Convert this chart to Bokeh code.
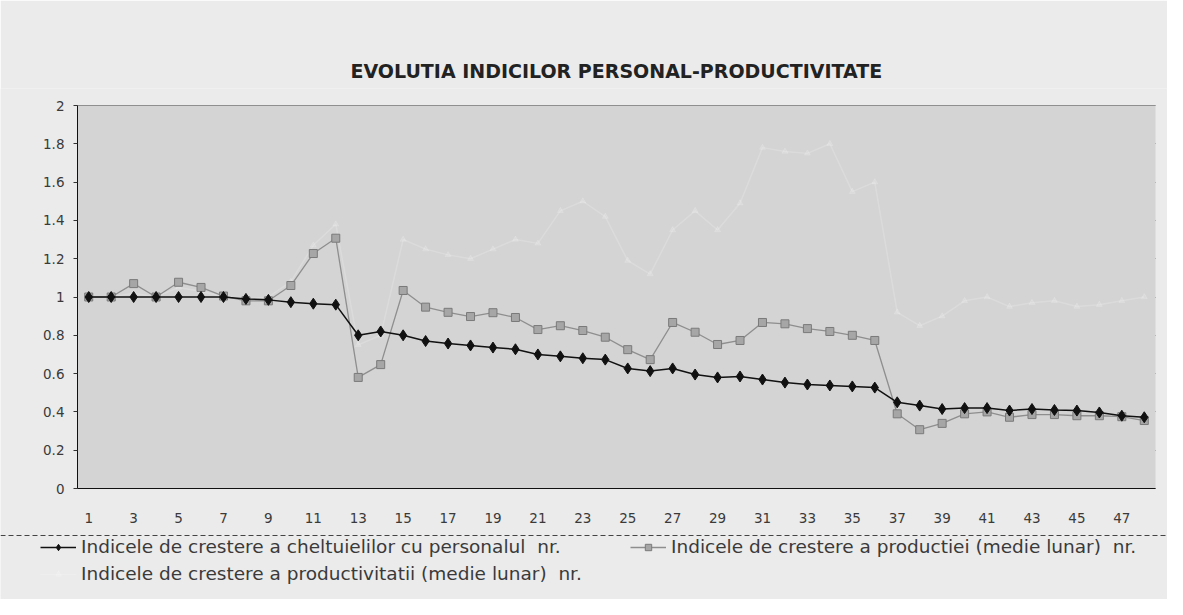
from bokeh.plotting import figure
from bokeh.models import (ColumnDataSource, FixedTicker, Legend, LegendItem, Range1d,
                          BoxAnnotation, Span)
from bokeh.embed import file_html
from bokeh.resources import INLINE

months = list(range(1, 49))
personal = [1.00, 1.00, 1.00, 1.00, 1.00, 1.00, 1.00, 0.99, 0.985, 0.973, 0.965, 0.96,
            0.80, 0.82, 0.80, 0.77, 0.757, 0.747, 0.736, 0.727, 0.70, 0.69, 0.68, 0.673,
            0.627, 0.613, 0.627, 0.595, 0.58, 0.585, 0.569, 0.553, 0.543, 0.538, 0.533, 0.527,
            0.45, 0.433, 0.415, 0.42, 0.42, 0.407, 0.415, 0.41, 0.407, 0.397, 0.38, 0.372]
productie = [1.00, 1.00, 1.07, 1.00, 1.077, 1.05, 1.005, 0.98, 0.98, 1.06, 1.227, 1.307,
             0.58, 0.647, 1.034, 0.947, 0.92, 0.898, 0.918, 0.893, 0.83, 0.85, 0.825, 0.79,
             0.725, 0.673, 0.867, 0.816, 0.752, 0.773, 0.867, 0.86, 0.835, 0.82, 0.80, 0.773,
             0.39, 0.307, 0.34, 0.39, 0.40, 0.372, 0.386, 0.386, 0.38, 0.38, 0.375, 0.355]
productivitate = [1.00, 1.00, 1.02, 1.00, 1.05, 1.03, 1.00, 0.99, 1.00, 1.08, 1.27, 1.38,
                  0.75, 0.80, 1.30, 1.25, 1.22, 1.20, 1.25, 1.30, 1.28, 1.45, 1.50, 1.42,
                  1.19, 1.12, 1.35, 1.45, 1.35, 1.49, 1.78, 1.76, 1.75, 1.80, 1.55, 1.60,
                  0.92, 0.85, 0.90, 0.98, 1.00, 0.95, 0.97, 0.98, 0.95, 0.96, 0.98, 1.00]
x_ticks = list(range(1, 48, 2))
y_ticks = [0, 0.2, 0.4, 0.6, 0.8, 1, 1.2, 1.4, 1.6, 1.8, 2]
title = "EVOLUTIA INDICILOR PERSONAL-PRODUCTIVITATE"
labels = ["Indicele de crestere a cheltuielilor cu personalul  nr.",
          "Indicele de crestere a productiei (medie lunar)  nr.",
          "Indicele de crestere a productivitatii (medie lunar)  nr."]

BG = "#ebebeb"
FONT = "DejaVu Sans"
TXT = "#3a3a3a"

# layout geometry (pixels): plot area 77..1155 x 105..488 inside a 1167x599 canvas
W, H = 1167, 599
AREA_L, AREA_R, AREA_T, AREA_B = 77, 1155, 105, 488
FRAME_T = 88
X0, X1 = 0.5, 48.5
Y0, Y1 = 0.0, 2.0
px_x = (AREA_R - AREA_L) / (X1 - X0)
px_y = (AREA_B - AREA_T) / (Y1 - Y0)
x_range = Range1d(X0 - AREA_L / px_x, X1 + (W - AREA_R) / px_x)
y_range = Range1d(Y0 - (H - AREA_B) / px_y, Y1 + (AREA_T - FRAME_T) / px_y)

src = ColumnDataSource(dict(x=months, a=personal, b=productie, c=productivitate))

p = figure(width=W, height=H, output_backend="svg", toolbar_location=None,
           x_range=x_range, y_range=y_range,
           min_border_left=0, min_border_right=0, min_border_top=FRAME_T, min_border_bottom=0)
p.background_fill_color = BG
p.border_fill_color = BG
p.outline_line_color = None
p.add_layout(BoxAnnotation(left=X0, right=X1, bottom=Y0, top=Y1, fill_color="#d4d4d4",
                           fill_alpha=1, line_color=None, level="underlay"))

p.title.text = title
p.title.align = "left"
p.title.offset = 350
p.title.text_font = FONT
p.title.text_font_size = "19px"
p.title.text_font_style = "bold"
p.title.text_color = "#222222"
p.title.standoff = 14

p.xgrid.grid_line_color = None
p.ygrid.ticker = FixedTicker(ticks=y_ticks)
p.ygrid.grid_line_color = "#4a4a4a"
p.ygrid.grid_line_width = 1
p.ygrid.cross_bounds = (X0, X1)

p.yaxis.ticker = FixedTicker(ticks=y_ticks)
p.xaxis.ticker = FixedTicker(ticks=x_ticks)
p.xaxis.fixed_location = Y0
p.yaxis.fixed_location = X0
p.xaxis.bounds = (X0, X1)
p.yaxis.bounds = (Y0, Y1)
for ax in (p.xaxis, p.yaxis):
    ax.axis_line_color = "#111111"
    ax.major_tick_line_color = "#333333"
    ax.minor_tick_line_color = None
    ax.major_label_text_font = FONT
    ax.major_label_text_font_size = "13.5px"
    ax.major_label_text_color = TXT
p.xaxis.major_tick_in = 0
p.xaxis.major_tick_out = 0
p.xaxis.major_label_standoff = 24
p.yaxis.major_tick_in = 0
p.yaxis.major_tick_out = 4
p.yaxis.major_label_standoff = 9

styles = {
    "a": dict(line=dict(line_color="#111111", line_width=1.5),
              mark=dict(marker="diamond", size=11, fill_color="#111111", line_color="#111111")),
    "b": dict(line=dict(line_color="#8e8e8e", line_width=1.3),
              mark=dict(marker="square", size=8, fill_color="#a6a6a6", line_color="#7a7a7a")),
    "c": dict(line=dict(line_color="#ffffff", line_width=1.5, line_alpha=0.18),
              mark=dict(marker="triangle", size=6, fill_color="#ffffff", line_color="#ffffff",
                        fill_alpha=0.15, line_alpha=0.15)),
}

rend = {}
for col in ["c", "b", "a"]:
    r1 = p.line("x", col, source=src, **styles[col]["line"])
    r2 = p.scatter("x", col, source=src, **styles[col]["mark"])
    rend[col] = [r1, r2]

# dashed top border of the legend box
p.add_layout(Span(location=Y0 - (535 - AREA_B) / px_y, dimension="width",
                  line_color="#444444", line_width=1, line_dash="5 3"))

common = dict(label_text_font=FONT, label_text_font_size="18.5px",
              label_text_color=TXT, glyph_width=36, glyph_height=16,
              background_fill_alpha=0, border_line_color=None,
              padding=0, margin=0, label_standoff=5, label_height=18)
positions = [(40, 42), (630, 42), (40, 15)]
for lab, col, loc in zip(labels, ["a", "b", "c"], positions):
    p.add_layout(Legend(items=[LegendItem(label=lab, renderers=rend[col])],
                        location=loc, **common))

open("out.html", "w").write(file_html(p, INLINE))
